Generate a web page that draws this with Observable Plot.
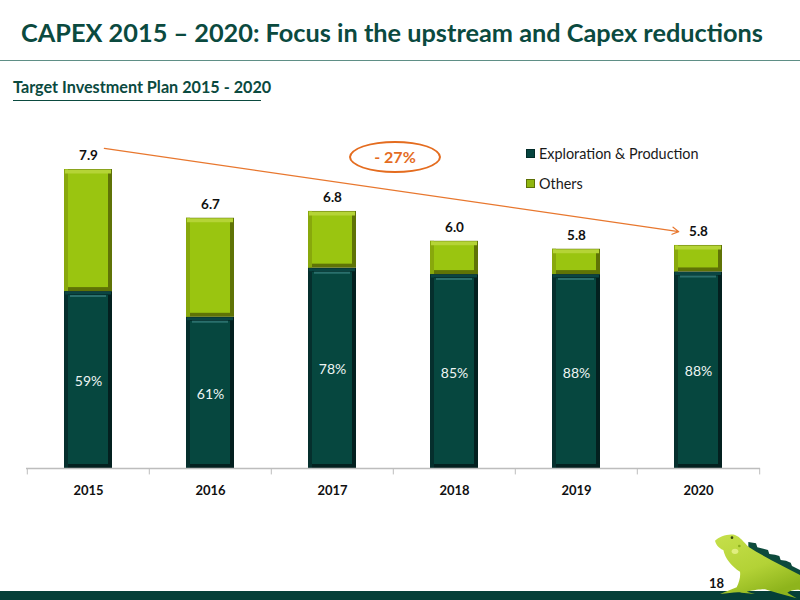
<!DOCTYPE html>
<html>
<head>
<meta charset="utf-8">
<script src="https://cdn.jsdelivr.net/npm/d3@7"></script>
<script src="https://cdn.jsdelivr.net/npm/@observablehq/plot@0.6"></script>
<style>
html,body{margin:0;padding:0;background:#fff;}
body{width:800px;height:600px;overflow:hidden;position:relative;font-family:Lato,sans-serif;}
#title{position:absolute;left:21px;top:15px;font-size:25.3px;font-weight:700;color:#0b4a3f;white-space:nowrap;line-height:34px;}
#rule{position:absolute;left:0;top:60px;width:800px;height:1px;background:#5f8f86;}
#sub{position:absolute;left:13px;top:77px;font-size:16.2px;font-weight:700;color:#0b4a3f;white-space:nowrap;line-height:20px;}
#subrule{position:absolute;left:13px;top:100px;width:248px;height:1px;background:#0b4a3f;}
#chart{position:absolute;left:0;top:110px;}
#oval{position:absolute;left:349px;top:141px;width:88px;height:28px;border:2.5px solid #e46c1f;border-radius:50%;color:#e46c1f;font-weight:700;font-size:16px;line-height:28px;text-align:center;background:#fff;}
.leg{position:absolute;left:526px;font-size:14.4px;color:#1a1a1a;white-space:nowrap;line-height:18px;padding-left:13px;}
.leg i{position:absolute;left:0;top:4px;width:9px;height:9px;}
#foot{position:absolute;left:0;top:591px;width:800px;height:9px;background:#053f38;}
#page{position:absolute;left:709px;top:575px;font-size:13px;font-weight:700;color:#111;line-height:16px;}
#igu{position:absolute;left:700px;top:530px;width:100px;height:70px;}
</style>
</head>
<body>
<div id="title">CAPEX 2015 – 2020: Focus in the upstream and Capex reductions</div>
<div id="rule"></div>
<div id="sub">Target Investment Plan 2015 - 2020</div>
<div id="subrule"></div>
<div id="chart"></div>
<div id="oval">- 27%</div>
<div class="leg" style="top:145px"><i style="background:#05443f;border:1px solid #022b28;box-sizing:border-box"></i>Exploration &amp; Production</div>
<div class="leg" style="top:175px"><i style="background:#8fb60f;border:1px solid #5c7006;box-sizing:border-box"></i>Others</div>
<div id="foot"></div>
<svg id="igu" viewBox="0 0 300 210">
  <defs><linearGradient id="ig" x1="0" y1="0" x2="0.5" y2="1"><stop offset="0" stop-color="#c6e04b"/><stop offset="0.6" stop-color="#b3d236"/><stop offset="1" stop-color="#8eb41c"/></linearGradient></defs>
  <path d="M145,36 L168,40 L172,52 L190,56 L204,60 L208,72 L225,74 L238,78 L242,90 L258,92 L272,98 L276,108 L300,120 L300,140 L145,60 Z" fill="#0d4a3c"/>
  <path d="M45,32 C58,20 85,10 105,15 C122,22 130,35 145,50 C190,80 250,108 300,135 L300,180 C285,178 270,182 262,188 L290,205 L235,190 L195,178 C180,178 165,180 140,185 L165,192 L125,188 C110,185 85,190 60,192 L110,172 C118,155 122,140 120,125 C95,110 75,85 70,60 C58,55 48,45 45,32 Z" fill="url(#ig)"/>
  <ellipse cx="105" cy="64" rx="10" ry="8" fill="#e0ee80"/>
  <circle cx="96" cy="23" r="4" fill="#3c4a10"/>
  <circle cx="118" cy="48" r="4" fill="#8bae1c"/>
</svg>
<div id="page">18</div>
<script>
const years = ["2015","2016","2017","2018","2019","2020"];
const production = [4.68,4.0,5.3,5.13,5.13,5.2];
const others = [3.23,2.62,1.5,0.88,0.67,0.7];
const totalLabels = ["7.9","6.7","6.8","6.0","5.8","5.8"];
const shareLabels = ["59%","61%","78%","85%","88%","88%"];
const seriesNames = ["Exploration & Production","Others"];
const faceColors = ["#06473f","#9ac510"];
const edgeColors = ["#03201f","#5f7306"];
const leftColors = ["#052f2d","#88a80c"];
const topColors = ["#2a6f6c","#b5d436"];
const arrowFrom = 8.53, arrowTo = 6.19;

const rows = years.flatMap((year,i)=>[
  {year,series:seriesNames[0],y1:0,y2:production[i],edge:edgeColors[0],left:leftColors[0],top:topColors[0]},
  {year,series:seriesNames[1],y1:production[i],y2:production[i]+others[i],edge:edgeColors[1],left:leftColors[1],top:topColors[1]}
]);
const rowsEP = rows.filter(d=>d.series===seriesNames[0]);
const rowsOther = rows.filter(d=>d.series===seriesNames[1]);
const tops = years.map((year,i)=>({year,top:production[i]+others[i],label:totalLabels[i]}));
const mids = years.map((year,i)=>({year,mid:production[i]/2,label:shareLabels[i]}));

const plot = Plot.plot({
  width:800,height:400,
  marginLeft:26,marginRight:40,marginTop:10,marginBottom:42,
  x:{domain:years,paddingInner:0.61,paddingOuter:0.305,label:null},
  y:{domain:[0,348/37.8],axis:null},
  color:{domain:seriesNames,range:faceColors},
  style:{fontFamily:"Lato,sans-serif",background:"transparent",overflow:"visible"},
  marks:[
    Plot.barY(rows,{x:"year",y1:"y1",y2:"y2",fill:d=>d.edge}),
    Plot.barY(rows,{x:"year",y1:"y1",y2:"y2",fill:d=>d.left,insetRight:44}),
    Plot.barY(rows,{x:"year",y1:"y1",y2:"y2",fill:"series",insetLeft:4,insetRight:4,insetTop:4,insetBottom:4}),
    Plot.tickY(rowsOther,{x:"year",y:"y2",dy:2,stroke:d=>d.top,strokeWidth:4,insetLeft:1,insetRight:1}),
    Plot.tickY(rowsEP,{x:"year",y:"y2",dy:1.5,stroke:"#0a4542",strokeWidth:3,insetLeft:1,insetRight:1}),
    Plot.tickY(rowsEP,{x:"year",y:"y2",dy:4.5,stroke:d=>d.top,strokeWidth:2,insetLeft:6,insetRight:6}),
    Plot.ruleY([0],{stroke:"#bdbdbd",strokeWidth:1.5}),
    Plot.ruleX(years,{x:d=>d,dx:-61.2,y1:0,y2:-0.17,stroke:"#bdbdbd",strokeWidth:1}),
    Plot.ruleX(years.slice(-1),{x:d=>d,dx:61.2,y1:0,y2:-0.17,stroke:"#bdbdbd",strokeWidth:1}),
    Plot.axisX({tickSize:0,tickPadding:17,fontSize:13,fontWeight:"bold",fill:"#111"}),
    Plot.text(tops,{x:"year",y:"top",text:"label",dy:-13.5,fontSize:13.5,fontWeight:"bold",fill:"#111"}),
    Plot.text(mids,{x:"year",y:"mid",text:"label",dy:1.5,fontSize:14,fill:"#eef5f3"}),
    Plot.arrow([{x1:years[0],x2:years[5],y1:arrowFrom,y2:arrowTo}],{x1:"x1",x2:"x2",y1:"y1",y2:"y2",bend:0,insetStart:16,insetEnd:20,stroke:"#e8772e",strokeWidth:1.2,headLength:9})
  ]
});
document.getElementById("chart").appendChild(plot);
</script>
</body>
</html>
